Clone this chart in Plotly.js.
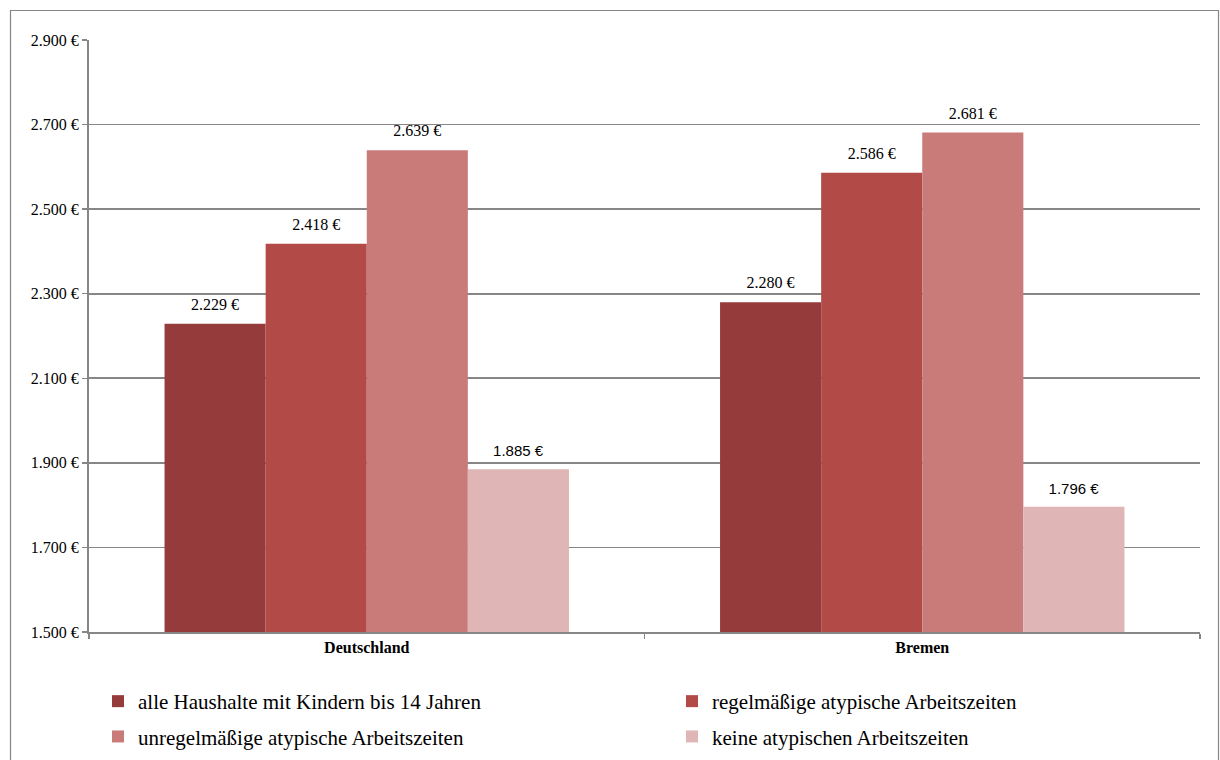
<!DOCTYPE html>
<html>
<head>
<meta charset="utf-8">
<script src="https://cdn.plot.ly/plotly-3.0.1.min.js"></script>
<style>html,body{margin:0;padding:0;background:#fff;}#chart{width:1220px;height:760px;}</style>
</head>
<body>
<div id="chart"></div>
<script>
const categories = ["Deutschland", "Bremen"];
const seriesNames = [
  "alle Haushalte mit Kindern bis 14 Jahren",
  "regelmäßige atypische Arbeitszeiten",
  "unregelmäßige atypische Arbeitszeiten",
  "keine atypischen Arbeitszeiten"
];
const alleHaushalte = [2229, 2280];
const regelmaessig = [2418, 2586];
const unregelmaessig = [2639, 2681];
const keine = [1885, 1796];
const yTickVals = [1500, 1700, 1900, 2100, 2300, 2500, 2700, 2900];
const yTickText = ["1.500 €", "1.700 €", "1.900 €", "2.100 €", "2.300 €", "2.500 €", "2.700 €", "2.900 €"];

const colors = ["#953B3B", "#B24A48", "#C97B7A", "#DFB5B5"];
const labelFonts = ["Liberation Serif", "Liberation Serif", "Liberation Serif", "Liberation Sans"];
const labelSizes = [16, 16, 16, 15];
const legendIds = ["legend", "legend2", "legend", "legend2"];
const values = [alleHaushalte, regelmaessig, unregelmaessig, keine];

const traces = values.map((v, i) => ({
  type: "bar",
  name: seriesNames[i],
  legend: legendIds[i],
  legendgroup: "g" + i,
  x: categories,
  y: v,
  marker: {color: colors[i], line: {width: 0}},
  texttemplate: "<span style='font-size:" + labelSizes[i] + "px'>%{y:,.0f} €</span><br><span style='font-size:7px'> </span>",
  textposition: "outside",
  cliponaxis: false,
  textfont: {family: labelFonts[i], size: 7, color: "#000"},
  hoverinfo: "none"
}));

const L = 89, R = 20, T = 40, B = 128;
const W = 1220, H = 760;
const pw = W - L - R, ph = H - T - B;
const px = x => (x - L) / pw;
const py = y => 1 - (y - T) / ph;

const legendBase = {
  orientation: "v",
  xref: "container", yref: "container",
  xanchor: "left", yanchor: "top",
  y: 1 - 681 / H,
  font: {family: "Liberation Serif", size: 21, color: "#000"},
  traceorder: "grouped",
  itemclick: false, itemdoubleclick: false,
  tracegroupgap: 5,
  bgcolor: "rgba(0,0,0,0)"
};

const layout = {
  width: W, height: H,
  margin: {l: L, r: R, t: T, b: B, autoexpand: false},
  paper_bgcolor: "#fff",
  plot_bgcolor: "#fff",
  separators: ",.",
  barmode: "group",
  bargap: 0.272,
  bargroupgap: 0,
  font: {family: "Liberation Serif", color: "#000"},
  xaxis: {
    type: "category",
    tickson: "boundaries",
    ticks: "outside",
    ticklen: 5,
    tickcolor: "#868686",
    tickwidth: 1.5,
    showline: true,
    linecolor: "#868686",
    linewidth: 2,
    showgrid: false,
    automargin: false,
    tickfont: {family: "Liberation Serif", size: 16, color: "#000", weight: "bold"},
    fixedrange: true
  },
  yaxis: {
    range: [1500, 2900],
    tickvals: yTickVals,
    ticktext: yTickText,
    ticks: "outside",
    ticklen: 5,
    tickcolor: "#868686",
    tickwidth: 1.5,
    showline: true,
    linecolor: "#868686",
    linewidth: 2,
    showgrid: true,
    gridcolor: "#868686",
    gridwidth: 1.6,
    zeroline: false,
    automargin: false,
    tickfont: {family: "Liberation Serif", size: 16, color: "#000"},
    fixedrange: true
  },
  showlegend: true,
  legend: Object.assign({}, legendBase, {x: 98 / W}),
  legend2: Object.assign({}, legendBase, {x: 672 / W}),
  shapes: [{
    type: "rect", xref: "paper", yref: "paper",
    x0: px(10.5), x1: px(1218.5), y0: py(775), y1: py(10.5),
    line: {color: "#868686", width: 1.2}, fillcolor: "rgba(0,0,0,0)", layer: "below"
  }]
};

Plotly.newPlot("chart", traces, layout, {displayModeBar: false, staticPlot: true});
</script>
</body>
</html>
